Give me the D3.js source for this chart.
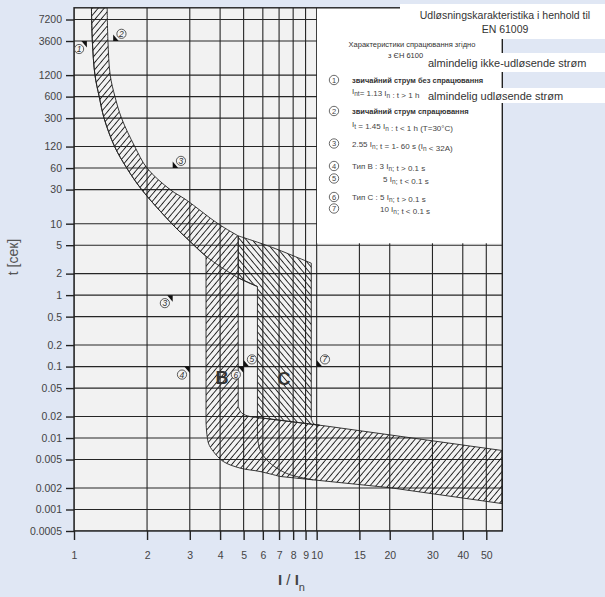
<!DOCTYPE html>
<html>
<head>
<meta charset="utf-8">
<script src="https://d3js.org/d3.v7.min.js"></script>
<style>
  body { margin: 0; background: #e0e7f4; }
  svg { display: block; font-family: "Liberation Sans", Arial, sans-serif; }
</style>
</head>
<body>
<svg width="605" height="597"></svg>
<script>
// axis ticks
var xTicks = [1, 2, 3, 4, 5, 6, 7, 8, 9, 10, 15, 20, 30, 40, 50];
var yTicks = [7200, 3600, 1200, 600, 300, 120, 60, 30, 10, 5, 2, 1, 0.5, 0.2, 0.1, 0.05, 0.02, 0.01, 0.005, 0.002, 0.001, 0.0005];
var yTickLabels = ["7200", "3600", "1200", "600", "300", "120", "60", "30", "10", "5", "2", "1", "0.5", "0.2", "0.1", "0.05", "0.02", "0.01", "0.005", "0.002", "0.001", "0.0005"];

// thermal band: left (non-tripping) and right (tripping) boundaries, I/In vs seconds
var lowCurveI = [1.18, 1.19, 1.22, 1.27, 1.33, 1.47, 1.65, 1.9, 2.53, 2.95, 3.5, 4.75, 5.7];
var lowCurveT = [10500, 3600, 1200, 600, 300, 120, 60, 30, 10, 6, 3.5, 1.75, 1.32];
var highCurveI = [1.37, 1.38, 1.41, 1.475, 1.57, 1.78, 2.0, 2.49, 2.9, 3.92, 4.75, 6.4, 9.5];
var highCurveT = [10500, 3600, 1200, 600, 300, 120, 60, 30, 21.5, 10, 6.75, 4.8, 2.8];

// magnetic region edges
var bEdgeI = [3.5, 4.75];      // B: left, right
var cEdgeI = [5.7, 9.5];       // C: left, right

// B outer corner (left edge into lower line)
var bArcI = [3.5, 3.58, 3.75, 4.12, 4.83, 5.84, 7.06];
var bArcT = [0.0164, 0.0085, 0.0065, 0.0047, 0.0038, 0.0034, 0.0029];
// B inner corner (right edge into upper line)
var bInI = [4.75, 4.91, 5.31, 6.0];
var bInT = [0.0277, 0.0224, 0.02, 0.019];
// C outer corner
var cArcI = [5.7, 5.84, 6.22, 6.84, 7.76, 9.68];
var cArcT = [0.0105, 0.00686, 0.00497, 0.0038, 0.00307, 0.0026];
// C inner corner
var cInI = [9.5, 9.75, 10.3];
var cInT = [0.0185, 0.0157, 0.0151];

// instantaneous band
var lowLineI = [7.06, 20, 58];
var lowLineT = [0.0029, 0.00202, 0.00121];
var upLineI = [5.7, 6.0, 10.3, 11.3, 58];
var upLineT = [0.0193, 0.019, 0.0151, 0.0145, 0.0067];

// annotation markers
var annoNum = [1, 2, 3, 3, 4, 5, 6, 7];
var annoI = [1.13, 1.45, 2.55, 2.55, 3, 5, 5, 10];
var annoT = [3600, 3600, 60, 1, 0.1, 0.1, 0.1, 0.1];
var annoSide = [-1, 1, 1, -1, -1, 1, -1, 1];
var curveNames = ["B", "C"];
var curveNameI = [4.07, 7.33];
var curveNameT = [0.071, 0.069];

var svg = d3.select("svg");
var x = d3.scaleLog().domain([1, 58.2]).range([74, 502.3]);
var y = d3.scaleLog().domain([0.0005, 10500]).range([531, 7.8]);

var defs = svg.append("defs");
defs.append("clipPath").attr("id", "plotclip").append("rect")
  .attr("x", 74).attr("y", 7.8).attr("width", 428.3).attr("height", 523.2);
function hatch(id, ang) {
  defs.append("pattern").attr("id", id)
    .attr("patternUnits", "userSpaceOnUse")
    .attr("width", 4.6).attr("height", 4.6)
    .attr("patternTransform", "rotate(" + ang + ")")
    .append("line").attr("x1", 2.3).attr("y1", -1).attr("x2", 2.3).attr("y2", 5.6)
    .attr("stroke", "#1c1c1c").attr("stroke-width", 0.9);
}
hatch("hfwd", 40);
hatch("hback", -40);

svg.append("rect").attr("width", 605).attr("height", 597).attr("fill", "#e0e7f4");
svg.append("rect").attr("x", 74).attr("y", 7.8).attr("width", 428.3).attr("height", 523.2).attr("fill", "#f2f2f2");

function pts(I, T) { return I.map(function (v, i) { return [x(v), y(T[i])]; }); }
var smooth = d3.line().curve(d3.curveCatmullRom);
var straight = d3.line();
function shape(parts, close) {
  var s = parts.map(function (p, i) { return i ? p.replace(/^M/, "L") : p; }).join("");
  return close ? s + "Z" : s;
}
function rev(a) { return a.slice().reverse(); }

var plot = svg.append("g").attr("clip-path", "url(#plotclip)");

// grid
plot.selectAll(".vg").data(xTicks).enter().append("line")
  .attr("x1", function (d) { return x(d); }).attr("x2", function (d) { return x(d); })
  .attr("y1", 7.8).attr("y2", 531).attr("stroke", "#262626").attr("stroke-width", 1.1);
plot.selectAll(".hg").data(yTicks).enter().append("line")
  .attr("y1", function (d) { return y(d); }).attr("y2", function (d) { return y(d); })
  .attr("x1", 74).attr("x2", 502.3).attr("stroke", "#262626").attr("stroke-width", 1.1);

// B region (thermal band + B band + instantaneous band)
var regionB = shape([
  smooth(pts(lowCurveI.slice(0, 11), lowCurveT.slice(0, 11))),
  straight([[x(bEdgeI[0]), y(3.5)], [x(bEdgeI[0]), y(bArcT[0])]]),
  smooth(pts(bArcI, bArcT)),
  straight(pts(lowLineI, lowLineT)),
  straight(pts(rev(upLineI).slice(0, 4), rev(upLineT).slice(0, 4))),
  smooth(pts(rev(bInI), rev(bInT))),
  smooth(pts(rev(highCurveI.slice(0, 11)), rev(highCurveT.slice(0, 11))))
], true);

// C region above the instantaneous band
var regionC = shape([
  smooth(pts(highCurveI.slice(10), highCurveT.slice(10))),
  straight([[x(cEdgeI[1]), y(2.8)], [x(cEdgeI[1]), y(cInT[0])]]),
  smooth(pts(cInI, cInT)),
  straight(pts([10.3, 6.0, 5.7], [0.0151, 0.019, 0.0193])),
  straight([[x(cEdgeI[0]), y(0.0193)], [x(cEdgeI[0]), y(1.32)]]),
  straight(pts([5.7, 4.75], [1.32, 1.75]))
], true);

plot.append("path").attr("d", regionC).attr("fill", "url(#hback)")
  .attr("stroke", "#222").attr("stroke-width", 0.9);
plot.append("path").attr("d", regionB).attr("fill", "url(#hfwd)")
  .attr("stroke", "#222").attr("stroke-width", 0.9);

// lines running through the hatching
plot.append("path").attr("d", smooth(pts(lowCurveI, lowCurveT)))
  .attr("fill", "none").attr("stroke", "#222").attr("stroke-width", 0.9);
plot.append("path").attr("d", shape([
  straight([[x(cEdgeI[0]), y(0.0193)], [x(cEdgeI[0]), y(cArcT[0])]]),
  smooth(pts(cArcI, cArcT))
], false)).attr("fill", "none").attr("stroke", "#222").attr("stroke-width", 0.9);

// legend panel covers the upper right of the grid
svg.append("rect").attr("x", 317).attr("y", 7.8).attr("width", 185.3).attr("height", 235.5).attr("fill", "#ffffff");

// frame
svg.append("rect").attr("x", 74).attr("y", 7.8).attr("width", 428.3).attr("height", 523.2)
  .attr("fill", "none").attr("stroke", "#222").attr("stroke-width", 1.4);

// axes
var gx = svg.append("g").attr("transform", "translate(0,531)")
  .call(d3.axisBottom(x).tickValues(xTicks).tickFormat(d3.format("d")).tickSize(9).tickPadding(12));
var gy = svg.append("g").attr("transform", "translate(74,0)")
  .call(d3.axisLeft(y).tickValues(yTicks)
    .tickFormat(function (d) { return yTickLabels[yTicks.indexOf(d)]; })
    .tickSize(8).tickPadding(4));
[gx, gy].forEach(function (g) {
  g.select(".domain").remove();
  g.selectAll(".tick line").attr("stroke", "#222").attr("stroke-width", 1.4);
  g.selectAll(".tick text").attr("fill", "#444").style("font-size", "10.5px")
    .style("font-family", "'Liberation Sans', Arial, sans-serif");
});

// axis titles
svg.append("text").attr("transform", "translate(18,257) rotate(-90)")
  .attr("text-anchor", "middle").attr("fill", "#555").style("font-size", "14px")
  .text("t [сек]");
var xl = svg.append("text").attr("x", 278).attr("y", 585).attr("fill", "#444").style("font-size", "15px");
xl.append("tspan").attr("font-weight", "bold").text("I");
xl.append("tspan").text(" / ");
xl.append("tspan").attr("font-weight", "bold").text("I");
xl.append("tspan").attr("dy", 6).style("font-size", "11px").text("n");

// markers on the chart
var marks = svg.append("g");
annoNum.forEach(function (n, i) {
  var px = x(annoI[i]), py = y(annoT[i]), s = annoSide[i];
  var tri = s > 0
    ? [[px, py], [px + 5.5, py], [px, py - 6.5]]
    : [[px, py], [px - 5.5, py], [px, py + 6.5]];
  marks.append("path").attr("d", d3.line()(tri) + "Z").attr("fill", "#111");
  var cx = px + (s > 0 ? 8.3 : -7.8), cy = py + (s > 0 ? -7.2 : 8);
  marks.append("circle").attr("cx", cx).attr("cy", cy).attr("r", 4.6)
    .attr("fill", "#f4f4f4").attr("stroke", "#333").attr("stroke-width", 0.8);
  marks.append("text").attr("x", cx).attr("y", cy + 3).attr("text-anchor", "middle")
    .attr("font-style", "italic").attr("fill", "#333").style("font-size", "8.5px").text(n);
});
curveNames.forEach(function (nm, i) {
  svg.append("text").attr("x", x(curveNameI[i])).attr("y", y(curveNameT[i]) + 6.5)
    .attr("text-anchor", "middle").attr("font-weight", "bold").attr("fill", "#333")
    .style("font-size", "18px").text(nm);
});

// legend
var leg = svg.append("g").attr("fill", "#444").style("font-size", "8px");
function rich(px, py, parts, bold) {
  var t = leg.append("text").attr("x", px).attr("y", py);
  if (bold) t.attr("font-weight", "bold").attr("fill", "#333").style("font-size", "7.5px");
  parts.forEach(function (p) {
    if (p[1]) {
      t.append("tspan").attr("dy", 2).style("font-size", "6.5px").text(p[0]);
      t.append("tspan").attr("dy", -2).text("");
    } else {
      t.append("tspan").text(p[0]);
    }
  });
}
function bubble(cx, cy, n) {
  leg.append("circle").attr("cx", cx).attr("cy", cy).attr("r", 4.7)
    .attr("fill", "#fff").attr("stroke", "#444").attr("stroke-width", 0.8);
  leg.append("text").attr("x", cx).attr("y", cy + 2.7).attr("text-anchor", "middle")
    .style("font-size", "7.5px").text(n);
}
leg.append("text").attr("x", 412).attr("y", 47).attr("text-anchor", "middle").attr("fill", "#333")
  .style("font-size", "7.5px").text("Характеристики спрацювання згідно");
leg.append("text").attr("x", 388).attr("y", 58).attr("fill", "#333")
  .style("font-size", "7.5px").text("з ЄН 6100");

bubble(334, 80, 1);
rich(352, 83, [["звичайний струм без спрацювання"]], true);
rich(352, 93.5, [["I"], ["nt", 1], ["= 1.13 I"], ["n", 1], [" : t > 1 h"]]);
bubble(334, 111, 2);
rich(352, 114, [["звичайний струм спрацювання"]], true);
rich(352, 127, [["I"], ["t", 1], [" = 1.45 I"], ["n", 1], [" : t < 1 h   (T=30°C)"]]);
bubble(334, 143.5, 3);
rich(352, 147, [["2.55 I"], ["n", 1], ["; t = 1- 60 s (I"], ["n", 1], [" < 32A)"]]);
bubble(334, 166, 4);
rich(352, 169, [["Тип B  : 3 I"], ["n", 1], ["; t > 0.1 s"]]);
bubble(334, 178.5, 5);
rich(383, 181.5, [["5 I"], ["n", 1], ["; t < 0.1 s"]]);
bubble(334, 197, 6);
rich(352, 200, [["Тип C  : 5 I"], ["n", 1], ["; t > 0.1 s"]]);
bubble(334, 208.5, 7);
rich(380, 211.5, [["10 I"], ["n", 1], ["; t < 0.1 s"]]);

// Danish overlays
svg.append("rect").attr("x", 400).attr("y", 4).attr("width", 205).attr("height", 35).attr("fill", "#fff");
svg.append("text").attr("x", 505).attr("y", 19).attr("text-anchor", "middle").attr("fill", "#333")
  .style("font-size", "10.5px").text("Udløsningskarakteristika i henhold til");
svg.append("text").attr("x", 505).attr("y", 33).attr("text-anchor", "middle").attr("fill", "#333")
  .style("font-size", "10.5px").text("EN 61009");
svg.append("rect").attr("x", 426).attr("y", 53).attr("width", 179).attr("height", 19).attr("fill", "#fff");
svg.append("text").attr("x", 428).attr("y", 66.5).attr("fill", "#333")
  .style("font-size", "11px").text("almindelig ikke-udløsende strøm");
svg.append("rect").attr("x", 426).attr("y", 88).attr("width", 179).attr("height", 15).attr("fill", "#fff");
svg.append("text").attr("x", 428).attr("y", 99.5).attr("fill", "#333")
  .style("font-size", "11px").text("almindelig udløsende strøm");
</script>
</body>
</html>
